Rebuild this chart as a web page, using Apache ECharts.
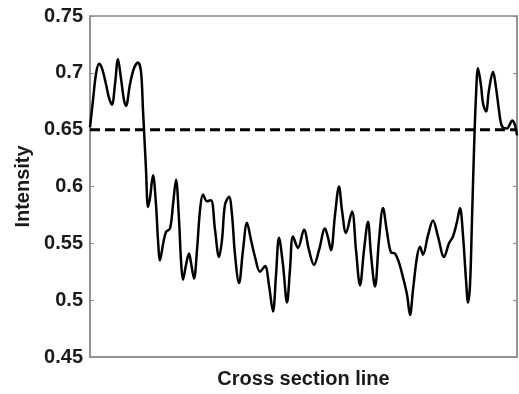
<!DOCTYPE html>
<html>
<head>
<meta charset="utf-8">
<script src="https://cdn.jsdelivr.net/npm/echarts@6/dist/echarts.min.js"></script>
<style>html,body{margin:0;padding:0;background:#fff;}#c{width:519px;height:394px;}</style>
</head>
<body>
<div id="c"></div>
<script>
// Position along the cross-section line (arbitrary units, 0..427)
var position = [0,3,6,9,12,16,19,22,25,28,31,34,36,40,44,48,51,53,54,56,58,60,63,66,68,70,73,76,80,83,86,89,91,93,96,99,101,104,107,110,113,117,121,125,129,132,135,139,142,145,149,153,157,161,165,170,175,179,183,186,189,193,197,200,203,208,214,219,224,229,235,238,241,245,249,252,256,262,266,270,274,278,281,285,289,293,297,301,305,309,313,317,320,323,327,330,333,338,343,348,354,359,363,367,370,373,376,378,380,382,384,386,388,391,393,396,399,403,406,409,412,417,420,422,425,427];
var intensity = [0.652,0.676,0.699,0.708,0.704,0.690,0.678,0.672,0.690,0.712,0.695,0.676,0.671,0.690,0.704,0.709,0.701,0.667,0.650,0.615,0.582,0.590,0.610,0.584,0.553,0.535,0.549,0.560,0.563,0.584,0.606,0.571,0.535,0.518,0.531,0.541,0.533,0.519,0.544,0.579,0.593,0.587,0.588,0.562,0.538,0.553,0.584,0.591,0.575,0.540,0.515,0.544,0.568,0.553,0.538,0.525,0.530,0.513,0.490,0.522,0.555,0.531,0.498,0.527,0.556,0.546,0.562,0.544,0.531,0.544,0.563,0.555,0.544,0.575,0.600,0.579,0.559,0.578,0.544,0.513,0.544,0.569,0.540,0.512,0.553,0.581,0.560,0.542,0.541,0.533,0.520,0.505,0.487,0.509,0.538,0.547,0.540,0.557,0.570,0.556,0.538,0.550,0.556,0.569,0.581,0.557,0.518,0.498,0.513,0.571,0.632,0.680,0.704,0.689,0.673,0.666,0.685,0.701,0.687,0.667,0.653,0.651,0.655,0.658,0.654,0.645];
var thresholdX = [0, 427];
var thresholdY = [0.65, 0.65];
var yTicks = [0.45, 0.5, 0.55, 0.6, 0.65, 0.7, 0.75];

var main = position.map(function(p, i){ return [p, intensity[i]]; });
var thr = thresholdX.map(function(p, i){ return [p, thresholdY[i]]; });

var chart = echarts.init(document.getElementById('c'), null, {renderer:'canvas'});
var font = '"Liberation Sans", Arial, sans-serif';
var axisGray = '#8c8c8c';
chart.setOption({
  animation: false,
  backgroundColor: '#fff',
  grid: {left: 90, right: 2, top: 16, bottom: 37, show: true, borderColor: axisGray, borderWidth: 1.5, containLabel: false, outerBoundsMode: 'none'},
  xAxis: {
    type: 'value', min: 0, max: 427,
    name: 'Cross section line', nameLocation: 'middle', nameGap: 12,
    nameTextStyle: {fontFamily: font, fontWeight: 'bold', fontSize: 20, color: '#1a1a1a'},
    axisLine: {show: true, lineStyle: {color: axisGray, width: 1.5}},
    axisTick: {show: false}, axisLabel: {show: false}, splitLine: {show: false}
  },
  yAxis: [{
    type: 'value', min: yTicks[0], max: yTicks[yTicks.length-1], interval: 0.05,
    name: 'Intensity', nameLocation: 'middle', nameGap: 56,
    nameTextStyle: {fontFamily: font, fontWeight: 'bold', fontSize: 20, color: '#1a1a1a'},
    axisLine: {show: true, lineStyle: {color: axisGray, width: 1.5}},
    axisTick: {show: true, inside: true, length: 4, lineStyle: {color: axisGray}},
    axisLabel: {fontFamily: font, fontWeight: 'bold', fontSize: 20, color: '#1a1a1a', margin: 7},
    splitLine: {show: false}
  }, {
    type: 'value', position: 'right', min: yTicks[0], max: yTicks[yTicks.length-1], interval: 0.05,
    axisLine: {show: true, lineStyle: {color: axisGray, width: 1.5}},
    axisTick: {show: true, inside: true, length: 4, lineStyle: {color: axisGray}},
    axisLabel: {show: false}, splitLine: {show: false}
  }],
  series: [{
    type: 'line', data: thr, symbol: 'none', silent: true,
    lineStyle: {color: '#000', width: 3, type: [10, 5]}
  }, {
    type: 'line', data: main, symbol: 'none', smooth: 0.35,
    lineStyle: {color: '#000', width: 2.5}
  }]
});
</script>
</body>
</html>
